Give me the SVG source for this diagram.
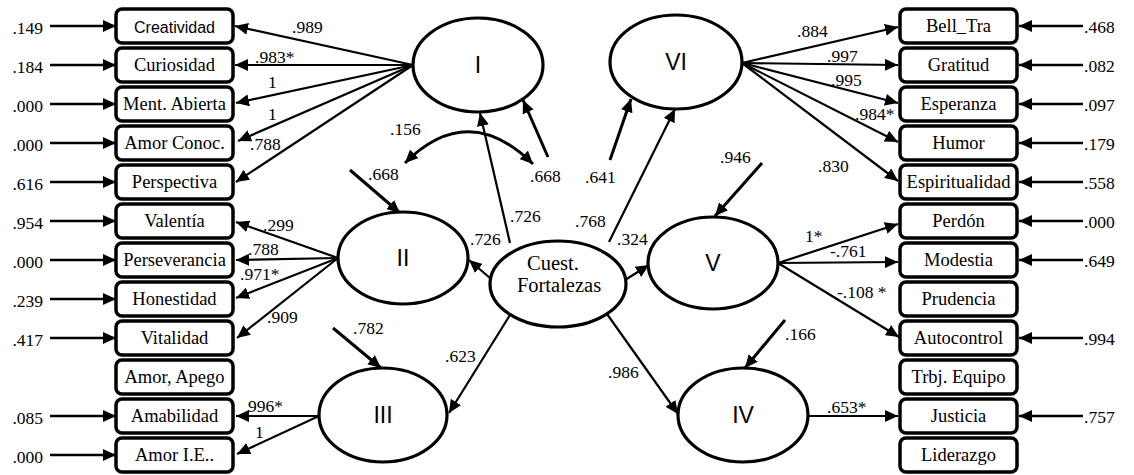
<svg xmlns="http://www.w3.org/2000/svg" width="1134" height="475" viewBox="0 0 1134 475">
  <defs>
    <marker id="ah" viewBox="0 0 13 12" refX="13" refY="6" markerWidth="13" markerHeight="12" markerUnits="userSpaceOnUse" orient="auto-start-reverse">
      <path d="M0,0 L13,6 L0,12 z" fill="#000"/>
    </marker>
    <style>
      .box { fill: #fff; stroke: #000; stroke-width: 3.5; }
      .lat { fill: #fff; stroke: #000; stroke-width: 3.2; }
      .bt { font-size: 18.5px; fill: #000; text-anchor: middle; }
      .bts { font-size: 16px; fill: #000; text-anchor: middle; }
      .rn { font-size: 23px; fill: #000; text-anchor: middle; }
      .ct { font-size: 20.5px; fill: #000; text-anchor: middle; }
      .lb { font-size: 17.5px; fill: #000; }
      .le { text-anchor: end; }
      .ld { stroke: #000; stroke-width: 2.2; fill: none; marker-end: url(#ah); }
      .er { stroke: #000; stroke-width: 2.6; fill: none; marker-end: url(#ah); }
      .ds { stroke: #000; stroke-width: 3; fill: none; marker-end: url(#ah); }
    </style>
  </defs>
  <rect width="1134" height="475" fill="#fff"/>

  <!-- connectors -->
  <g id="connectors">
    <!-- factor I loadings -->
    <line class="ld" x1="413" y1="65" x2="235" y2="26"/>
    <line class="ld" x1="413" y1="65" x2="235" y2="65"/>
    <line class="ld" x1="413" y1="65" x2="236" y2="103"/>
    <line class="ld" x1="413" y1="65" x2="238" y2="141"/>
    <line class="ld" x1="413" y1="65" x2="236" y2="182"/>
    <!-- factor II loadings -->
    <line class="ld" x1="338" y1="258" x2="236" y2="222"/>
    <line class="ld" x1="338" y1="258" x2="236" y2="260"/>
    <line class="ld" x1="338" y1="258" x2="236" y2="298"/>
    <line class="ld" x1="338" y1="258" x2="237" y2="338"/>
    <!-- factor III loadings -->
    <line class="ld" x1="319" y1="416" x2="236" y2="416"/>
    <line class="ld" x1="319" y1="416" x2="237" y2="454"/>
    <!-- factor VI loadings -->
    <line class="ld" x1="742" y1="63" x2="898" y2="27"/>
    <line class="ld" x1="742" y1="63" x2="898" y2="65"/>
    <line class="ld" x1="742" y1="63" x2="898" y2="103"/>
    <line class="ld" x1="742" y1="63" x2="898" y2="142"/>
    <line class="ld" x1="742" y1="63" x2="898" y2="181"/>
    <!-- factor V loadings -->
    <line class="ld" x1="778" y1="263" x2="898" y2="224"/>
    <line class="ld" x1="778" y1="263" x2="898" y2="262"/>
    <line class="ld" x1="778" y1="263" x2="899" y2="337"/>
    <!-- factor IV loading -->
    <line class="ld" x1="808" y1="416" x2="898" y2="416"/>
    <!-- second-order paths -->
    <line class="ld" x1="510" y1="243" x2="480" y2="113"/>
    <line class="ld" x1="490" y1="278" x2="469" y2="260"/>
    <line class="ld" x1="510" y1="315" x2="449" y2="413"/>
    <line class="ld" x1="609" y1="242" x2="675" y2="109"/>
    <line class="ld" x1="625" y1="280" x2="649" y2="265"/>
    <line class="ld" x1="607" y1="314" x2="678" y2="414"/>
    <!-- disturbances -->
    <line class="ds" x1="350" y1="170" x2="400" y2="213"/>
    <line class="ds" x1="548" y1="157" x2="523" y2="100"/>
    <line class="ds" x1="333" y1="328" x2="381" y2="368"/>
    <line class="ds" x1="610" y1="160" x2="631" y2="99"/>
    <line class="ds" x1="762" y1="163" x2="715" y2="216"/>
    <line class="ds" x1="785" y1="320" x2="745" y2="368"/>
    <!-- covariance -->
    <path class="ds" d="M405,163 Q468,100 533,164" marker-start="url(#ah)"/>
    <!-- left residuals -->
    <line class="er" x1="50" y1="26" x2="116" y2="26"/>
    <line class="er" x1="50" y1="65" x2="116" y2="65"/>
    <line class="er" x1="50" y1="104" x2="116" y2="104"/>
    <line class="er" x1="50" y1="143" x2="116" y2="143"/>
    <line class="er" x1="50" y1="182" x2="116" y2="182"/>
    <line class="er" x1="50" y1="221" x2="116" y2="221"/>
    <line class="er" x1="50" y1="260" x2="116" y2="260"/>
    <line class="er" x1="50" y1="299" x2="116" y2="299"/>
    <line class="er" x1="50" y1="338" x2="116" y2="338"/>
    <line class="er" x1="50" y1="416" x2="116" y2="416"/>
    <line class="er" x1="50" y1="455" x2="116" y2="455"/>
    <!-- right residuals -->
    <line class="er" x1="1083" y1="26" x2="1019" y2="26"/>
    <line class="er" x1="1083" y1="65" x2="1019" y2="65"/>
    <line class="er" x1="1083" y1="104" x2="1019" y2="104"/>
    <line class="er" x1="1083" y1="143" x2="1019" y2="143"/>
    <line class="er" x1="1083" y1="182" x2="1019" y2="182"/>
    <line class="er" x1="1083" y1="221" x2="1019" y2="221"/>
    <line class="er" x1="1083" y1="260" x2="1019" y2="260"/>
    <line class="er" x1="1083" y1="338" x2="1019" y2="338"/>
    <line class="er" x1="1083" y1="416" x2="1019" y2="416"/>
  </g>

  <g font-family="Liberation Serif, Times New Roman, DejaVu Serif, Noto Serif, serif">
  <!-- path coefficients -->
  <g id="coefficients" class="lb">
    <text x="292" y="33">.989</text>
    <text x="255" y="63">.983*</text>
    <text x="268" y="88">1</text>
    <text x="268" y="120">1</text>
    <text x="250" y="150">.788</text>
    <text x="263" y="231">.299</text>
    <text x="248" y="255">.788</text>
    <text x="240" y="280">.971*</text>
    <text x="267" y="323">.909</text>
    <text x="248" y="412">996*</text>
    <text x="255" y="438">1</text>
    <text x="390" y="135">.156</text>
    <text x="368" y="180">.668</text>
    <text x="530" y="182">.668</text>
    <text x="510" y="222">.726</text>
    <text x="470" y="245">.726</text>
    <text x="575" y="227">.768</text>
    <text x="617" y="245">.324</text>
    <text x="585" y="183">.641</text>
    <text x="445" y="362">.623</text>
    <text x="353" y="334">.782</text>
    <text x="608" y="378">.986</text>
    <text x="785" y="340">.166</text>
    <text x="720" y="163">.946</text>
    <text x="797" y="37">.884</text>
    <text x="827" y="62">.997</text>
    <text x="831" y="86">.995</text>
    <text x="855" y="120">.984*</text>
    <text x="818" y="172">.830</text>
    <text x="805" y="242">1*</text>
    <text x="830" y="257">-.761</text>
    <text x="837" y="298">-.108 *</text>
    <text x="827" y="413">.653*</text>
  </g>

  <!-- residual values -->
  <g id="residuals-left" class="lb le">
    <text x="43" y="34">.149</text>
    <text x="43" y="73">.184</text>
    <text x="43" y="112">.000</text>
    <text x="43" y="151">.000</text>
    <text x="43" y="190">.616</text>
    <text x="43" y="229">.954</text>
    <text x="43" y="268">.000</text>
    <text x="43" y="307">.239</text>
    <text x="43" y="346">.417</text>
    <text x="43" y="424">.085</text>
    <text x="43" y="463">.000</text>
  </g>
  <g id="residuals-right" class="lb">
    <text x="1084" y="33">.468</text>
    <text x="1084" y="72">.082</text>
    <text x="1084" y="111">.097</text>
    <text x="1084" y="150">.179</text>
    <text x="1084" y="189">.558</text>
    <text x="1084" y="228">.000</text>
    <text x="1084" y="267">.649</text>
    <text x="1084" y="345">.994</text>
    <text x="1084" y="423">.757</text>
  </g>

  <!-- observed indicators, left column -->
  <g id="creatividad"><rect class="box" x="116" y="9" width="117" height="34" rx="6"/><text class="bts" font-family="Liberation Sans, Arial, sans-serif" x="174.5" y="32.5">Creatividad</text></g>
  <g id="curiosidad"><rect class="box" x="116" y="48" width="117" height="34" rx="6"/><text class="bt" x="174.5" y="71">Curiosidad</text></g>
  <g id="ment-abierta"><rect class="box" x="116" y="87" width="117" height="34" rx="6"/><text class="bt" x="174.5" y="110">Ment. Abierta</text></g>
  <g id="amor-conoc"><rect class="box" x="116" y="126" width="117" height="34" rx="6"/><text class="bt" x="174.5" y="149">Amor Conoc.</text></g>
  <g id="perspectiva"><rect class="box" x="116" y="165" width="117" height="34" rx="6"/><text class="bt" x="174.5" y="188">Perspectiva</text></g>
  <g id="valentia"><rect class="box" x="116" y="204" width="117" height="34" rx="6"/><text class="bt" x="174.5" y="227">Valentía</text></g>
  <g id="perseverancia"><rect class="box" x="116" y="243" width="117" height="34" rx="6"/><text class="bt" x="174.5" y="266">Perseverancia</text></g>
  <g id="honestidad"><rect class="box" x="116" y="282" width="117" height="34" rx="6"/><text class="bt" x="174.5" y="305">Honestidad</text></g>
  <g id="vitalidad"><rect class="box" x="116" y="321" width="117" height="34" rx="6"/><text class="bt" x="174.5" y="344">Vitalidad</text></g>
  <g id="amor-apego"><rect class="box" x="116" y="360" width="117" height="34" rx="6"/><text class="bt" x="174.5" y="383">Amor, Apego</text></g>
  <g id="amabilidad"><rect class="box" x="116" y="399" width="117" height="34" rx="6"/><text class="bt" x="174.5" y="422">Amabilidad</text></g>
  <g id="amor-ie"><rect class="box" x="116" y="438" width="117" height="34" rx="6"/><text class="bt" x="174.5" y="461">Amor I.E..</text></g>

  <!-- observed indicators, right column -->
  <g id="bell-tra"><rect class="box" x="900" y="9" width="117" height="34" rx="6"/><text class="bt" x="958.5" y="32">Bell_Tra</text></g>
  <g id="gratitud"><rect class="box" x="900" y="48" width="117" height="34" rx="6"/><text class="bt" x="958.5" y="71">Gratitud</text></g>
  <g id="esperanza"><rect class="box" x="900" y="87" width="117" height="34" rx="6"/><text class="bt" x="958.5" y="110">Esperanza</text></g>
  <g id="humor"><rect class="box" x="900" y="126" width="117" height="34" rx="6"/><text class="bt" x="958.5" y="149">Humor</text></g>
  <g id="espiritualidad"><rect class="box" x="900" y="165" width="117" height="34" rx="6"/><text class="bt" x="958.5" y="188">Espiritualidad</text></g>
  <g id="perdon"><rect class="box" x="900" y="204" width="117" height="34" rx="6"/><text class="bt" x="958.5" y="227">Perdón</text></g>
  <g id="modestia"><rect class="box" x="900" y="243" width="117" height="34" rx="6"/><text class="bt" x="958.5" y="266">Modestia</text></g>
  <g id="prudencia"><rect class="box" x="900" y="282" width="117" height="34" rx="6"/><text class="bt" x="958.5" y="305">Prudencia</text></g>
  <g id="autocontrol"><rect class="box" x="900" y="321" width="117" height="34" rx="6"/><text class="bt" x="958.5" y="344">Autocontrol</text></g>
  <g id="trbj-equipo"><rect class="box" x="900" y="360" width="117" height="34" rx="6"/><text class="bt" x="958.5" y="383">Trbj. Equipo</text></g>
  <g id="justicia"><rect class="box" x="900" y="399" width="117" height="34" rx="6"/><text class="bt" x="958.5" y="422">Justicia</text></g>
  <g id="liderazgo"><rect class="box" x="900" y="438" width="117" height="34" rx="6"/><text class="bt" x="958.5" y="461">Liderazgo</text></g>

  <!-- latent factors -->
  <g id="factor-I"><ellipse class="lat" cx="478" cy="65" rx="65" ry="47"/><text class="rn" font-family="Liberation Sans, Arial, sans-serif" x="478" y="73">I</text></g>
  <g id="factor-II"><ellipse class="lat" cx="403" cy="258" rx="65" ry="46"/><text class="rn" font-family="Liberation Sans, Arial, sans-serif" x="403" y="266">II</text></g>
  <g id="factor-III"><ellipse class="lat" cx="383" cy="415" rx="64" ry="47"/><text class="rn" font-family="Liberation Sans, Arial, sans-serif" x="383" y="423">III</text></g>
  <g id="factor-VI"><ellipse class="lat" cx="676" cy="62" rx="66" ry="47"/><text class="rn" font-family="Liberation Sans, Arial, sans-serif" x="676" y="70">VI</text></g>
  <g id="factor-V"><ellipse class="lat" cx="713" cy="263" rx="65" ry="46"/><text class="rn" font-family="Liberation Sans, Arial, sans-serif" x="713" y="271">V</text></g>
  <g id="factor-IV"><ellipse class="lat" cx="743" cy="415" rx="65" ry="47"/><text class="rn" font-family="Liberation Sans, Arial, sans-serif" x="743" y="423">IV</text></g>
  <g id="cuest-fortalezas"><ellipse class="lat" cx="558" cy="284" rx="68" ry="43"/><text class="ct" x="553" y="270">Cuest.</text><text class="ct" x="559" y="292">Fortalezas</text></g>
  </g>
</svg>
